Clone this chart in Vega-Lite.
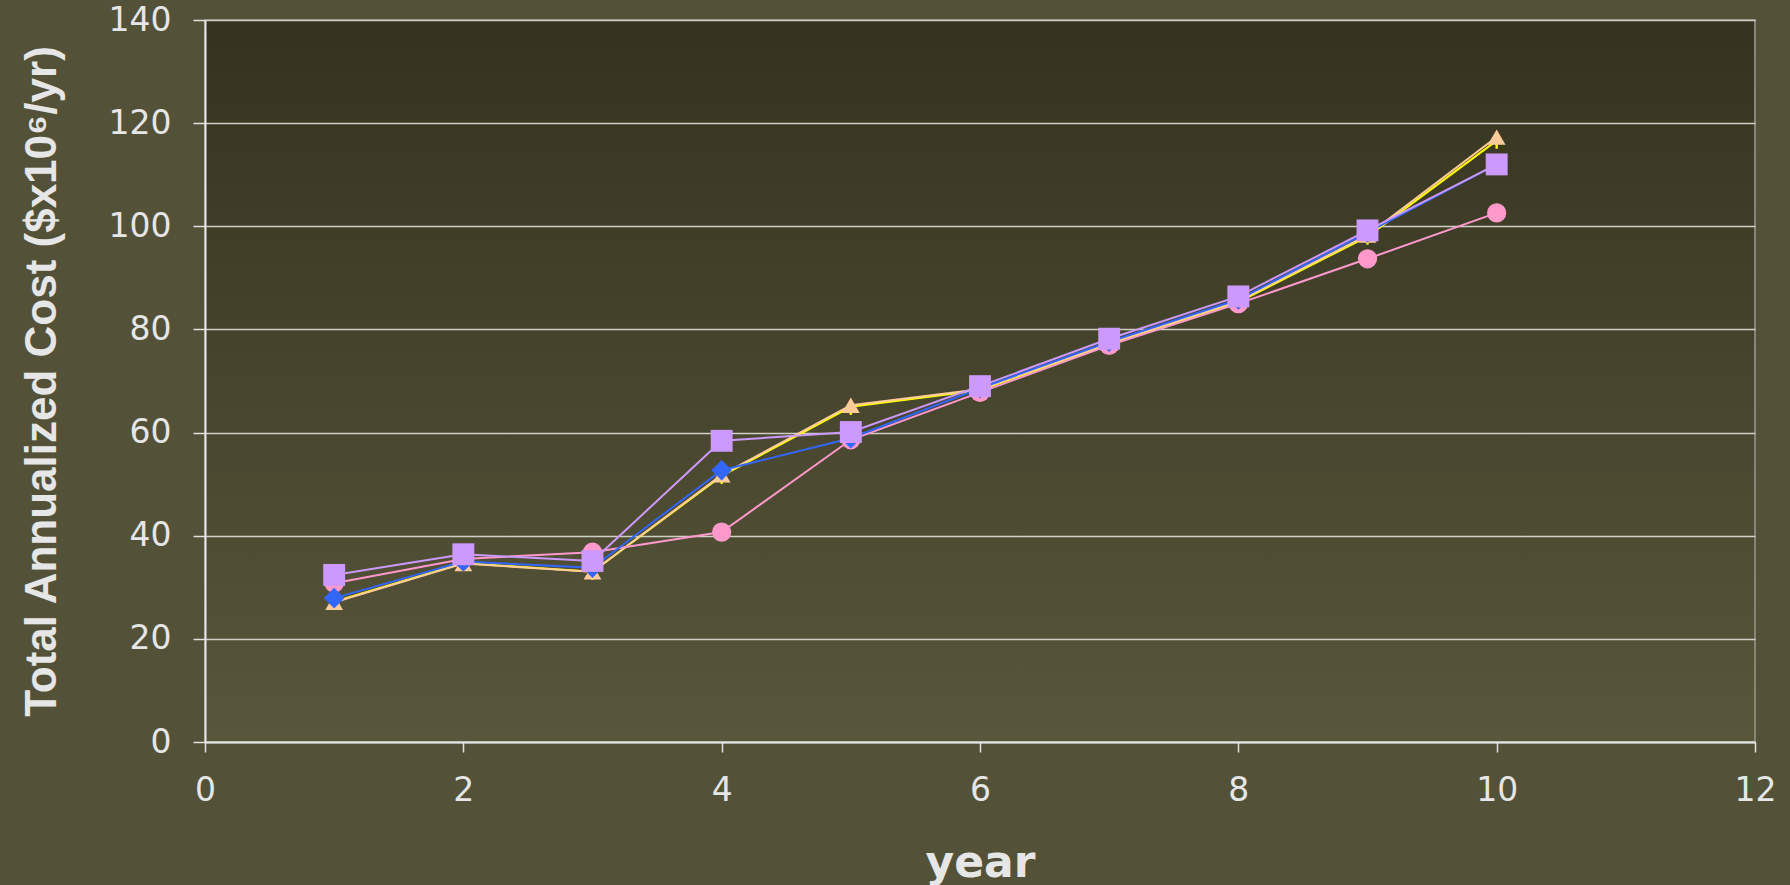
{
  "$schema": "https://vega.github.io/schema/vega-lite/v6.json",
  "width": 1550,
  "height": 722,
  "autosize": {"type": "none"},
  "padding": {"left": 205, "top": 20, "right": 35, "bottom": 143},
  "background": "#535238",
  "config": {
    "view": {
      "fill": {"gradient": "linear", "x1": 0, "y1": -0.028, "x2": 0, "y2": 1.198,
        "stops": [{"offset": 0, "color": "#34321e"}, {"offset": 1, "color": "#5f5e41"}]},
      "stroke": "#85857a",
      "strokeWidth": 2
    }
  },
  "data": {"values": [
    {"year": 1, "s": "Y", "v": 27.2}, {"year": 2, "s": "Y", "v": 34.7}, {"year": 3, "s": "Y", "v": 33.0}, {"year": 4, "s": "Y", "v": 51.6}, {"year": 5, "s": "Y", "v": 65.0}, {"year": 6, "s": "Y", "v": 68.2}, {"year": 7, "s": "Y", "v": 77.1}, {"year": 8, "s": "Y", "v": 85.3}, {"year": 9, "s": "Y", "v": 98.0}, {"year": 10, "s": "Y", "v": 116.6},
    {"year": 1, "s": "P", "v": 27.1}, {"year": 2, "s": "P", "v": 34.6}, {"year": 3, "s": "P", "v": 33.0}, {"year": 4, "s": "P", "v": 51.8}, {"year": 5, "s": "P", "v": 65.3}, {"year": 6, "s": "P", "v": 68.4}, {"year": 7, "s": "P", "v": 77.3}, {"year": 8, "s": "P", "v": 85.5}, {"year": 9, "s": "P", "v": 98.3}, {"year": 10, "s": "P", "v": 117.3},
    {"year": 1, "s": "K", "v": 30.8}, {"year": 2, "s": "K", "v": 35.5}, {"year": 3, "s": "K", "v": 36.8}, {"year": 4, "s": "K", "v": 40.7}, {"year": 5, "s": "K", "v": 58.6}, {"year": 6, "s": "K", "v": 67.8}, {"year": 7, "s": "K", "v": 76.9}, {"year": 8, "s": "K", "v": 85.0}, {"year": 9, "s": "K", "v": 93.7}, {"year": 10, "s": "K", "v": 102.6},
    {"year": 1, "s": "B", "v": 27.9}, {"year": 2, "s": "B", "v": 35.0}, {"year": 3, "s": "B", "v": 33.8}, {"year": 4, "s": "B", "v": 52.7}, {"year": 5, "s": "B", "v": 58.9}, {"year": 6, "s": "B", "v": 68.6}, {"year": 7, "s": "B", "v": 77.6}, {"year": 8, "s": "B", "v": 85.8}, {"year": 9, "s": "B", "v": 98.8}, {"year": 10, "s": "B", "v": 112.0},
    {"year": 1, "s": "L", "v": 32.4}, {"year": 2, "s": "L", "v": 36.4}, {"year": 3, "s": "L", "v": 35.1}, {"year": 4, "s": "L", "v": 58.4}, {"year": 5, "s": "L", "v": 60.1}, {"year": 6, "s": "L", "v": 69.0}, {"year": 7, "s": "L", "v": 78.2}, {"year": 8, "s": "L", "v": 86.4}, {"year": 9, "s": "L", "v": 99.2}, {"year": 10, "s": "L", "v": 112.0}
  ]},
  "encoding": {
    "x": {
      "field": "year", "type": "quantitative",
      "scale": {"domain": [0, 12], "nice": false},
      "axis": {
        "values": [0, 2, 4, 6, 8, 10, 12], "grid": false,
        "domainColor": "#e8e8e8", "domainWidth": 2,
        "tickColor": "#e0e0e0", "tickSize": 10, "tickWidth": 1.5,
        "labelFont": "DejaVu Sans", "labelFontSize": 33, "labelColor": "#e6e6e6", "labelPadding": 22, "labelFlush": false,
        "title": "year", "titleFont": "DejaVu Sans", "titleFontWeight": "bold", "titleFontSize": 44, "titleColor": "#e6e6e6", "titlePadding": 34
      }
    },
    "y": {
      "field": "v", "type": "quantitative",
      "scale": {"domain": [0, 140], "nice": false},
      "axis": {
        "values": [0, 20, 40, 60, 80, 100, 120, 140], "grid": true, "gridColor": "#cfcfc6", "gridWidth": 1.5,
        "domainColor": "#e8e8e8", "domainWidth": 2,
        "tickColor": "#e0e0e0", "tickSize": 12, "tickWidth": 1.5,
        "labelFont": "DejaVu Sans", "labelFontSize": 33, "labelColor": "#e6e6e6", "labelPadding": 22,
        "title": "Total Annualized Cost ($x10⁶/yr)", "titleFont": "Liberation Sans", "titleFontWeight": "bold", "titleFontSize": 44, "titleColor": "#e6e6e6", "titlePadding": 44
      }
    }
  },
  "layer": [
    {
      "mark": {"type": "line", "strokeWidth": 2},
      "encoding": {
        "color": {"field": "s", "type": "nominal", "legend": null,
          "scale": {"domain": ["Y", "P", "K", "B", "L"], "range": ["#ffff00", "#ffcc99", "#ff99cc", "#3366ff", "#cc99ff"]}},
        "detail": {"field": "s"}
      }
    },
    {
      "mark": {"type": "point", "filled": true, "opacity": 1},
      "encoding": {
        "color": {"field": "s", "type": "nominal", "legend": null,
          "scale": {"domain": ["Y", "P", "K", "B", "L"], "range": ["#ffff00", "#ffcc99", "#ff99cc", "#3366ff", "#cc99ff"]}},
        "shape": {"field": "s", "type": "nominal", "legend": null,
          "scale": {"domain": ["Y", "P", "K", "B", "L"], "range": ["M-0.15,-0.3H0.15V1H-0.15Z", "triangle-up", "circle", "diamond", "square"]}},
        "size": {"field": "s", "type": "nominal", "legend": null,
          "scale": {"domain": ["Y", "P", "K", "B", "L"], "range": [260, 480, 380, 420, 400]}}
      }
    }
  ]
}
